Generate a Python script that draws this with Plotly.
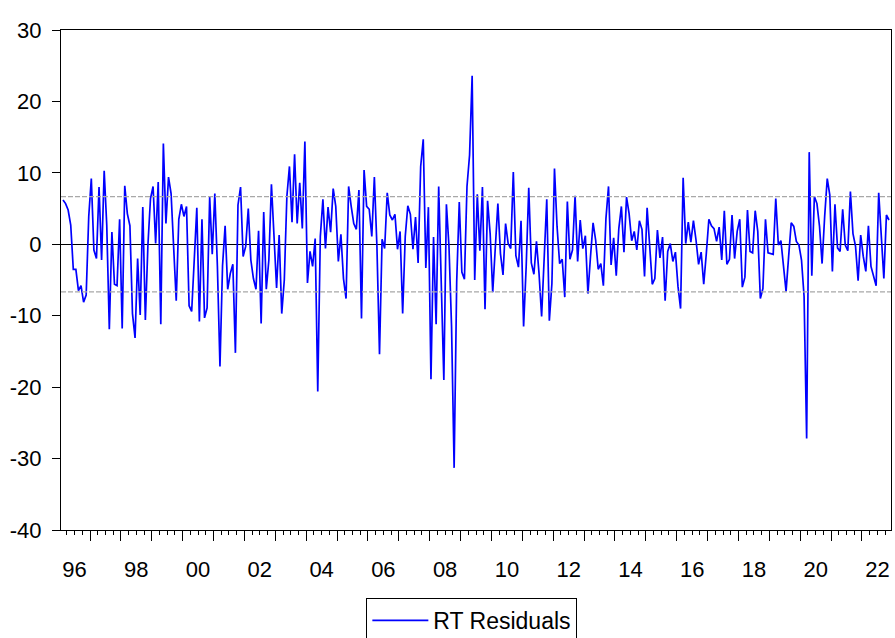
import numpy as np
import pandas as pd
import plotly.graph_objects as go

# Monthly residuals, 1996M02 .. 2022M11
start_period = "1996-02"
resid = [
    6.2, 5.7, 4.8, 2.7, -3.5, -3.5, -6.5, -5.8, -8.1, -7.1, 3.9,
    9.2, -0.8, -2.0, 8.0, -2.2, 10.3, 2.7, -11.9, 1.7, -5.6, -5.8, 3.5,
    -11.8, 8.2, 4.3, 2.6, -9.7, -13.1, -2.0, -9.9, 5.2, -10.6, -0.1, 6.4,
    8.1, 0.1, 8.7, -11.2, 14.1, 2.9, 9.4, 7.1, -0.3, -7.9, 3.5, 5.6,
    3.9, 5.3, -8.6, -9.4, -2.2, 5.1, -10.8, 3.5, -10.3, -8.9, 6.6, -1.4,
    7.1, -3.1, -17.1, -3.0, 2.6, -6.3, -4.1, -2.8, -15.2, 5.5, 8.0, -1.7,
    -0.3, 5.0, -2.2, -4.8, -6.3, 1.9, -11.1, 4.5, -6.3, -2.2, 8.4, 1.5,
    -6.1, 1.3, -9.7, -5.0, 6.7, 10.9, 3.1, 12.6, 2.9, 8.6, 2.2, 14.4,
    -5.4, -1.0, -3.1, 0.8, -20.6, 1.1, 6.3, -0.6, 5.2, 1.7, 7.8, 5.3,
    -2.4, 1.4, -4.8, -7.6, 8.1, 5.3, 2.9, 2.1, 7.6, -10.4, 10.4, 5.3,
    4.9, 1.1, 9.4, -0.3, -15.4, 0.7, -0.6, 7.2, 4.1, 3.4, 4.2, -0.7,
    1.8, -9.7, 1.1, 5.4, 4.2, -0.7, 3.8, -2.6, 10.9, 14.7, -3.3, 5.2,
    -18.9, 1.0, -11.2, 8.1, -6.9, -19.0, 5.6, -0.3, -11.5, -31.3, -5.2, 5.9,
    -3.9, -4.9, 8.1, 12.5, 23.6, -5.0, 7.0, -0.9, 8.0, -9.1, 6.1, 1.5,
    -6.7, -0.3, 5.7, -1.3, -4.3, 2.9, 0.1, -0.6, 10.1, -1.6, -3.2, 3.3,
    -11.5, -3.1, 7.9, -2.6, -4.2, 0.4, -4.1, -10.1, -2.2, 6.3, -10.7, -5.5,
    10.6, 2.5, -2.7, -2.1, -7.4, 6.0, -2.1, -0.8, 6.8, -2.4, 3.4, -0.6,
    1.2, -6.9, -1.7, 3.0, 0.6, -3.5, -2.7, -5.8, 3.6, 8.1, -2.9, 0.9,
    -4.4, 2.2, 5.3, -1.1, 6.6, 4.3, 0.5, 1.8, -0.8, 3.3, 2.1, -4.5,
    5.1, -0.8, -5.6, -4.8, 2.0, -1.9, 1.0, -7.9, -1.0, 0.1, -2.4, -1.1,
    -5.9, -9.0, 9.3, 0.1, 3.1, 0.3, 3.3, 0.6, -2.8, -1.1, -5.6, -1.3,
    3.5, 2.6, 2.2, 0.4, 2.4, -2.2, 4.7, -2.8, -2.1, 4.1, -2.0, 1.8,
    3.5, -6.0, -4.6, 4.8, -1.0, -1.2, 4.7, 1.8, -7.6, -6.2, 3.5, -1.2,
    -1.3, -1.4, 6.4, -0.1, 0.5, -2.7, -6.6, -1.7, 3.0, 2.5, 0.4, -0.1,
    -2.2, -7.3, -27.2, 12.9, -4.4, 6.7, 5.7, 2.5, -2.7, 3.9, 9.2, 6.9,
    -3.8, 5.6, -0.5, -1.0, 4.9, -0.1, -0.9, 7.4, 1.5, -0.3, -5.1, 1.3,
    -1.7, -3.8, 2.6, -3.1, -4.3, -5.8, 7.2, 1.1, -4.8, 4.1, 3.4,
]
band = 6.66  # +/- one standard error band
series_name = "RT Residuals"
label_years = list(range(1996, 2023, 2))
label_text = [f"{y % 100:02d}" for y in label_years]
y_ticks = [30, 20, 10, 0, -10, -20, -30, -40]

periods = pd.period_range(start_period, periods=len(resid), freq="M")
xv = np.array([p.year + (p.month - 1) / 12 + 1 / 24 for p in periods])
x_range = [xv[0] - 0.065, xv[-1] + 0.065]

FONT = "Arial, Liberation Sans, sans-serif"

fig = go.Figure()
fig.add_trace(go.Scatter(
    x=xv, y=resid, mode="lines", name=series_name,
    line=dict(color="#0000ff", width=1.7), xaxis="x", yaxis="y",
))
for b in (band, -band):
    fig.add_trace(go.Scatter(
        x=[x_range[0], x_range[1]], y=[b, b], mode="lines", showlegend=False,
        line=dict(color="#a8a8a8", width=1.2, dash="5px,2px"), hoverinfo="skip",
    ))
# invisible trace to activate label axis
fig.add_trace(go.Scatter(x=[xv[0]], y=[0], xaxis="x2", yaxis="y", mode="markers",
                         marker=dict(opacity=0), showlegend=False, hoverinfo="skip"))

fig.update_layout(
    width=895, height=638,
    margin=dict(l=61, r=4, t=30, b=108, autoexpand=False),
    paper_bgcolor="white", plot_bgcolor="white",
    font=dict(family=FONT, size=21, color="black"),
    showlegend=True,
    legend=dict(
        x=0.495, xanchor="center", y=-0.136, yanchor="top",
        orientation="h", bordercolor="black", borderwidth=1,
        font=dict(size=23, family=FONT), bgcolor="white",
        itemwidth=56,
    ),
    xaxis=dict(
        range=x_range, showgrid=False, zeroline=False, automargin=False,
        showline=True, linecolor="black", linewidth=1, mirror=True,
        tickmode="linear", tick0=1996, dtick=1, ticks="outside", ticklen=10,
        tickcolor="black", tickwidth=1, showticklabels=False,
        minor=dict(tickmode="linear", tick0=1996, dtick=0.25, ticks="outside",
                   ticklen=4, tickcolor="black", tickwidth=1, showgrid=False),
    ),
    xaxis2=dict(
        range=x_range, overlaying="x", side="bottom", showgrid=False,
        zeroline=False, showline=False, tickmode="array", automargin=False,
        tickvals=[y + 0.5 for y in label_years], ticktext=label_text,
        ticks="outside", ticklen=20, tickcolor="rgba(0,0,0,0)",
        tickfont=dict(size=22, family=FONT, color="black"),
    ),
    yaxis=dict(
        range=[-40, 30], showgrid=False, zeroline=True, zerolinecolor="black",
        zerolinewidth=1.2, showline=True, linecolor="black", linewidth=1,
        mirror=True, tickmode="array", tickvals=y_ticks, automargin=False,
        ticktext=[str(v) for v in y_ticks], ticks="outside", ticklen=8,
        tickcolor="black", tickfont=dict(size=22, family=FONT, color="black"),
        ticklabelstandoff=6,
    ),
)

fig.write_html(
    "out.html",
    config={"displayModeBar": False},
    post_script="document.body.style.margin='0px';document.body.style.overflow='hidden';",
)
